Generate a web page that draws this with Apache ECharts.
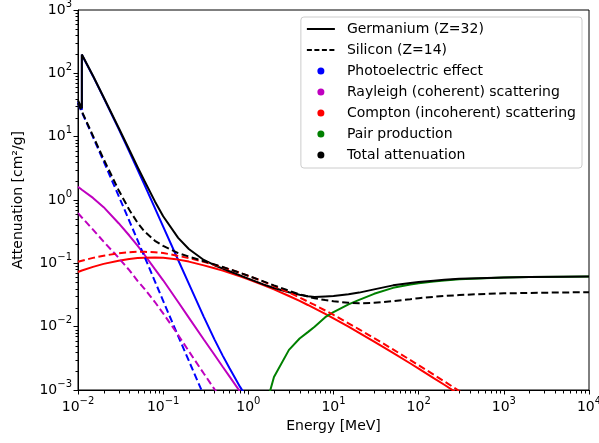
<!DOCTYPE html>
<html>
<head>
<meta charset="utf-8">
<script src="https://cdn.jsdelivr.net/npm/echarts@6.0.0/dist/echarts.min.js"></script>
<style>
html, body { margin: 0; padding: 0; background: #fff; }
#chart { width: 599px; height: 443px; }
</style>
</head>
<body>
<div id="chart"></div>
<script>
// photon energies in MeV (the Ge K-edge at 11.1 keV appears twice)
const energyMeV = [0.01, 0.0111, 0.0111, 0.015, 0.02, 0.03, 0.04, 0.05, 0.06, 0.08,
  0.1, 0.15, 0.2, 0.3, 0.4, 0.5, 0.6, 0.8, 1, 1.5,
  2, 3, 4, 5, 6, 8, 10, 15, 20, 30,
  50, 80, 100, 150, 200, 300, 500, 1000, 2000, 5000, 10000];

// Germanium, cm2/g
const gePhoto = [35.7, 26.6, 196.5, 90.2, 41.1, 13.3, 5.82, 3.03, 1.77, 0.745,
  0.379, 0.113, 0.0478, 0.0143, 0.00631, 0.00349, 0.00222, 0.00112, 0.000695, 0.0003,
  null, null, null, null, null, null, null, null, null, null,
  null, null, null, null, null, null, null, null, null, null, null];
const geRayleigh = [1.62, 1.45, 1.45, 1.08, 0.77, 0.43, 0.275, 0.19, 0.138, 0.081,
  0.054, 0.0245, 0.0139, 0.00628, 0.0036, 0.00233, 0.00164, 0.00094, 0.00061, 0.00027,
  null, null, null, null, null, null, null, null, null, null,
  null, null, null, null, null, null, null, null, null, null, null];
const geCompton = [0.073, 0.077, 0.077, 0.088, 0.098, 0.110, 0.117, 0.121, 0.123, 0.1235,
  0.122, 0.1145, 0.1065, 0.0928, 0.0835, 0.0767, 0.0710, 0.0623, 0.0560, 0.0455,
  0.0388, 0.0305, 0.0255, 0.0220, 0.0194, 0.0159, 0.0135, 0.0100, 0.0080, 0.0058,
  0.00386, 0.00262, 0.00218, 0.00154, 0.00121, 0.00085, 0.00055, null, null, null, null];
const gePair = [null, null, null, null, null, null, null, null, null, null,
  null, null, null, null, null, null, null, null, null, 0.0004,
  0.0016, 0.0043, 0.0065, 0.0082, 0.0100, 0.0141, 0.0170, 0.0225, 0.0265, 0.0330,
  0.0410, 0.0462, 0.0485, 0.0518, 0.0537, 0.0560, 0.0578, 0.0595, 0.0606, 0.0615, 0.0620];
const geTotal = [37.4, 28.1, 198, 91.4, 42.0, 13.84, 6.21, 3.34, 2.03, 0.95,
  0.555, 0.252, 0.168, 0.113, 0.0934, 0.0825, 0.0749, 0.0644, 0.0573, 0.0465,
  0.0407, 0.0350, 0.0320, 0.0302, 0.0294, 0.0300, 0.0305, 0.0325, 0.0345, 0.0388,
  0.0449, 0.0488, 0.0507, 0.0533, 0.0549, 0.0569, 0.0584, 0.0598, 0.0608, 0.0616, 0.0621];

// Silicon, cm2/g
const siPhoto = [33.2, 24.4, 24.4, 9.85, 4.07, 1.16, 0.47, 0.232, 0.130, 0.052,
  0.0255, 0.0071, 0.0029, 0.00082, 0.00034, null, null, null, null, null,
  null, null, null, null, null, null, null, null, null, null,
  null, null, null, null, null, null, null, null, null, null, null];
const siRayleigh = [0.62, 0.53, 0.53, 0.34, 0.22, 0.122, 0.078, 0.053, 0.040, 0.0245,
  0.0162, 0.0074, 0.0041, 0.00182, 0.00103, 0.00066, null, null, null, null,
  null, null, null, null, null, null, null, null, null, null,
  null, null, null, null, null, null, null, null, null, null, null];
const siCompton = [0.106, 0.110, 0.110, 0.122, 0.132, 0.144, 0.150, 0.152, 0.152, 0.150,
  0.146, 0.131, 0.121, 0.1055, 0.0948, 0.0868, 0.0803, 0.0705, 0.0634, 0.0515,
  0.0439, 0.03455, 0.0288, 0.0249, 0.0220, 0.0180, 0.0153, 0.01132, 0.00908, 0.0066,
  0.00437, 0.00297, 0.00246, 0.00175, 0.00137, 0.000963, 0.000618, null, null, null, null];
const siTotal = [34.0, 25.1, 25.1, 10.3, 4.42, 1.43, 0.70, 0.438, 0.322, 0.227,
  0.188, 0.145, 0.128, 0.108, 0.0962, 0.0876, 0.0809, 0.0709, 0.0637, 0.0519,
  0.0449, 0.0369, 0.0325, 0.0298, 0.0281, 0.0263, 0.0252, 0.0238, 0.0234, 0.0238,
  0.0253, 0.0272, 0.0282, 0.0296, 0.0305, 0.0316, 0.0326, 0.0336, 0.0341, 0.0347, 0.0350];

const FONT = 'DejaVu Sans';
const BLUE = '#0000ff', MAG = '#bf00bf', RED = '#ff0000', GREEN = '#008000', BLACK = '#000000';
const DASH = [7, 3.5];

// minor tick positions (2..9 in every decade)
const minorX = [], minorY = [];
for (let d = -2; d < 4; d++) for (let m = 2; m < 10; m++) minorX.push(m * Math.pow(10, d));
for (let d = -3; d < 3; d++) for (let m = 2; m < 10; m++) minorY.push(m * Math.pow(10, d));

const pow10 = v => {
  const e = Math.round(Math.log10(v));
  return '{b|10}{s|' + (e < 0 ? '\u2212' + (-e) : e) + '}';
};
const labelRich = {
  b: {fontSize: 14, fontFamily: FONT, color: '#000'},
  s: {fontSize: 10, fontFamily: FONT, color: '#000', verticalAlign: 'top', padding: [0, 0, 12, 0]}
};

function curve(name, vals, color, dashed) {
  return {
    name: name,
    type: 'line',
    data: energyMeV.map((e, i) => [e, vals[i]]).filter(p => p[1] != null),
    symbol: 'none',
    clip: true,
    silent: true,
    lineStyle: {color: color, width: 2, type: dashed ? DASH : 'solid'},
    itemStyle: {color: color}
  };
}

const chart = echarts.init(document.getElementById('chart'));

chart.setOption({
  animation: false,
  grid: {
    left: 78, right: 10, top: 10, bottom: 53,
    show: true, borderColor: '#000', borderWidth: 1,
    outerBoundsMode: 'none'
  },
  legend: {
    orient: 'vertical',
    right: 17,
    top: 17,
    align: 'left',
    itemWidth: 28,
    itemHeight: 7,
    itemGap: 7,
    padding: [5, 6, 6, 5],
    backgroundColor: 'rgba(255,255,255,0.8)',
    borderColor: '#cccccc',
    borderWidth: 1,
    borderRadius: 3,
    selectedMode: false,
    textStyle: {fontFamily: FONT, fontSize: 14, color: '#000', padding: [0, 0, 0, 7]},
    data: [
      {name: 'Germanium (Z=32)', itemStyle: {opacity: 0}},
      {name: 'Silicon (Z=14)', itemStyle: {opacity: 0}},
      {name: 'Photoelectric effect', icon: 'circle'},
      {name: 'Rayleigh (coherent) scattering', icon: 'circle'},
      {name: 'Compton (incoherent) scattering', icon: 'circle'},
      {name: 'Pair production', icon: 'circle'},
      {name: 'Total attenuation', icon: 'circle'}
    ]
  },
  xAxis: {
    type: 'log',
    logBase: 10,
    min: 0.01,
    max: 10000,
    name: 'Energy [MeV]',
    nameLocation: 'middle',
    nameGap: 27,
    nameTextStyle: {fontFamily: FONT, fontSize: 14, color: '#000'},
    splitLine: {show: false},
    axisLine: {lineStyle: {color: '#000', width: 1}},
    axisTick: {length: 4.5, lineStyle: {color: '#000', width: 1}},
    axisLabel: {margin: 6, formatter: pow10, rich: labelRich}
  },
  yAxis: {
    type: 'log',
    logBase: 10,
    min: 0.001,
    max: 1000,
    name: 'Attenuation [cm\u00b2/g]',
    nameLocation: 'middle',
    nameGap: 53,
    nameTextStyle: {fontFamily: FONT, fontSize: 14, color: '#000'},
    splitLine: {show: false},
    axisLine: {lineStyle: {color: '#000', width: 1}},
    axisTick: {length: 4.5, lineStyle: {color: '#000', width: 1}},
    axisLabel: {margin: 6, formatter: pow10, rich: labelRich}
  },
  series: [
    curve('Ge photoelectric', gePhoto, BLUE, false),
    curve('Ge Rayleigh', geRayleigh, MAG, false),
    curve('Ge Compton', geCompton, RED, false),
    curve('Ge pair', gePair, GREEN, false),
    curve('Ge total', geTotal, BLACK, false),
    curve('Si photoelectric', siPhoto, BLUE, true),
    curve('Si Rayleigh', siRayleigh, MAG, true),
    curve('Si Compton', siCompton, RED, true),
    curve('Si total', siTotal, BLACK, true),
    // legend-only entries
    {name: 'Germanium (Z=32)', type: 'line', data: [], symbol: 'none',
      lineStyle: {color: BLACK, width: 1.5}, itemStyle: {color: BLACK}},
    {name: 'Silicon (Z=14)', type: 'line', data: [], symbol: 'none',
      lineStyle: {color: BLACK, width: 1.5, type: [5, 2.5]}, itemStyle: {color: BLACK}},
    {name: 'Photoelectric effect', type: 'scatter', data: [], itemStyle: {color: BLUE, opacity: 1}},
    {name: 'Rayleigh (coherent) scattering', type: 'scatter', data: [], itemStyle: {color: MAG, opacity: 1}},
    {name: 'Compton (incoherent) scattering', type: 'scatter', data: [], itemStyle: {color: RED, opacity: 1}},
    {name: 'Pair production', type: 'scatter', data: [], itemStyle: {color: GREEN, opacity: 1}},
    {name: 'Total attenuation', type: 'scatter', data: [], itemStyle: {color: BLACK, opacity: 1}},
    // minor ticks drawn through the axis scales
    {
      name: 'minor ticks',
      type: 'custom',
      silent: true,
      z: 5,
      data: minorX.map(v => [v, 0.001, 0]).concat(minorY.map(v => [0.01, v, 1])),
      renderItem: function (params, api) {
        const p = api.coord([api.value(0), api.value(1)]);
        const x = Math.round(p[0]) + 0.5, y = Math.round(p[1]) + 0.5;
        const shape = api.value(2) === 0
          ? {x1: x, y1: y, x2: x, y2: y + 3}
          : {x1: x - 3, y1: y, x2: x, y2: y};
        return {type: 'line', shape: shape, style: {stroke: '#000', lineWidth: 1}};
      }
    }
  ]
});
</script>
</body>
</html>
